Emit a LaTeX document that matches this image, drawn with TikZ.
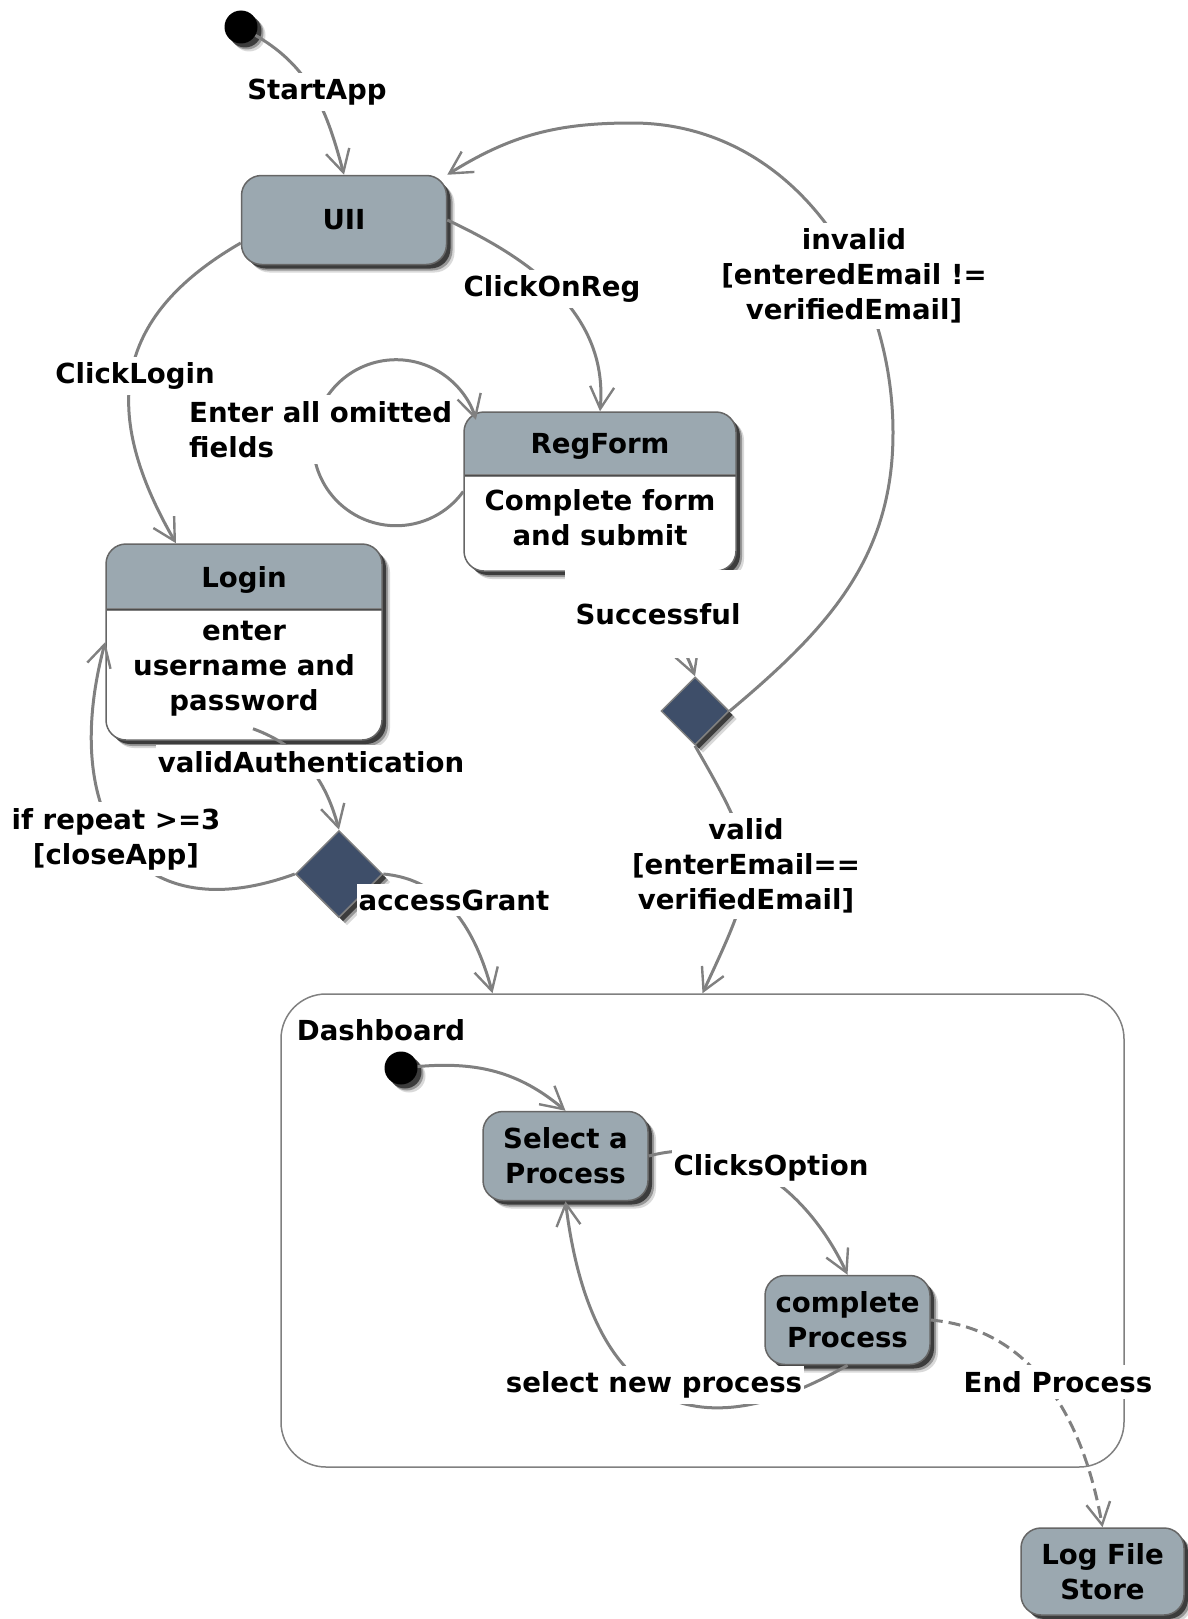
\documentclass[tikz,border=0pt]{standalone}
\usepackage{fontspec}
\setmainfont{DejaVu Sans}
\usetikzlibrary{shapes.geometric,arrows.meta,shadows,positioning,calc}
\definecolor{stategray}{RGB}{155,168,176}
\definecolor{choiceblue}{RGB}{62,78,105}
\definecolor{linegray}{RGB}{128,128,128}

\begin{document}
\begin{tikzpicture}[x=1pt,y=1pt,font=\bfseries\fontsize{27.6}{35}\selectfont,
    shadowed/.style={drop shadow={shadow xshift=8pt,shadow yshift=-8pt,fill=black,opacity=0.15},
        drop shadow={shadow xshift=6pt,shadow yshift=-6pt,fill=black,opacity=0.3},
        drop shadow={shadow xshift=4pt,shadow yshift=-4pt,fill=black,opacity=0.6}},
    state/.style={draw=gray!80!black,line width=1.5pt,fill=stategray,rounded corners=20pt,align=center,inner sep=0pt,shadowed},
    compound/.style={state,fill=white,path picture={
        \fill[stategray,sharp corners] (path picture bounding box.north west) rectangle ([yshift=-#1]path picture bounding box.north east);
        \draw[gray,line width=3pt,sharp corners] ([yshift=-#1]path picture bounding box.north west) -- ([yshift=-#1]path picture bounding box.north east);
        \draw[gray!60!black,line width=0.8pt,sharp corners] ([yshift=-#1]path picture bounding box.north west) -- ([yshift=-#1]path picture bounding box.north east);}},
    choice/.style={diamond,draw=linegray,line width=1.5pt,fill=choiceblue,inner sep=0pt,shadowed},
    initial/.style={circle,fill=black,minimum size=33pt,inner sep=0pt,shadowed},
    trans/.style={draw=linegray,line width=3pt,-{Straight Barb[length=22pt,width=24pt,line width=2.4pt]}},
    lbl/.style={fill=white,inner xsep=2pt,inner ysep=6pt,align=center}]
    \useasboundingbox (0,0) rectangle (1187,-1619);

    \node[initial] (init) at (241,-27) {};
    \node[state,minimum width=205pt,minimum height=89pt] (uii) at (344,-220) {UII};
    \node[compound=63pt,minimum width=272pt,minimum height=159pt] (regform) at (600,-491.5) {};
    \node (regtitle) at ([yshift=-35pt]regform.north) {RegForm};
    \node[align=center] (regbody) at ([yshift=-106pt]regform.north) {Complete form\\and submit};
    \node[compound=65pt,minimum width=276pt,minimum height=196pt] (login) at (244,-642) {};
    \node (logintitle) at ([yshift=-37pt]login.north) {Login};
    \node[align=center] (loginbody) at ([yshift=-125pt]login.north) {enter\\username and\\password};
    \node[choice,minimum size=68pt] (emailcheck) at (695,-711) {};
    \node[choice,minimum size=87pt] (authcheck) at (339,-874) {};

    \node[draw=linegray,line width=1.5pt,rounded corners=45pt,minimum width=843pt,minimum height=473pt] (dashboard) at (702.5,-1230.5) {};
    \node (dashtitle) at (381,-1030) {Dashboard};
    \node[initial] (dashinit) at (401,-1068) {};
    \node[state,minimum width=165pt,minimum height=89pt] (select) at (565.5,-1156) {Select a\\Process};
    \node[state,minimum width=165pt,minimum height=89pt] (complete) at (847.5,-1320) {complete\\Process};
    \node[state,minimum width=163pt,minimum height=87pt] (logfile) at (1102.5,-1571.5) {Log File\\Store};

    \draw[trans] (init) to[out=-30,in=105] (uii.north);
    \draw[trans] ([yshift=-23pt]uii.west) to[out=210,in=120,looseness=1.25] ([xshift=-68pt]login.north);
    \draw[trans] (uii.east) to[out=-25,in=85] (regform.north);
    \draw[trans] (regform.west) arc[start angle=-36,end angle=-344,radius=83];
    \draw[trans] (regform.south) to[out=-30,in=110] (emailcheck.north);
    \coordinate (invright) at (893,-433);
    \coordinate (invtop) at (632,-123);
    \draw[trans] (emailcheck.east) to[out=40,in=-90] (invright) to[out=90,in=0] (invtop) to[out=180,in=32] (uii.north east);
    \draw[trans] (emailcheck.south) to[out=-60,in=65,looseness=1.4] (dashboard.north);
    \draw[trans] ([shift={(9pt,12pt)}]login.south) to[out=-20,in=105] (authcheck.north);
    \draw[trans] (authcheck.west) to[out=200,in=255,looseness=1.5] (login.west);
    \draw[trans] (authcheck.east) to[out=-5,in=105] ([xshift=-210pt]dashboard.north);
    \draw[trans] (dashinit) to[out=5,in=140] (select.north);
    \draw[trans] (select.east) to[out=15,in=115] (complete.north);
    \draw[trans] (complete.south) to[out=210,in=277,looseness=1.5] (select.south);
    \draw[trans,dash pattern=on 12pt off 6pt] (complete.east) to[out=-5,in=100] (logfile.north);

    \node[lbl] (startlbl) at (317,-92) {StartApp};
    \node[lbl] (loginlbl) at (135,-376) {ClickLogin};
    \node[lbl] (reglbl) at (552,-289) {ClickOnReg};
    \node[lbl] (invalidlbl) at (854,-276) {invalid\\{}[enteredEmail !=\\verifiedEmail]};
    \node[lbl,align=left,anchor=west] (omitlbl) at (187,-429.5) {Enter all omitted\\fields};
    \node[lbl,inner xsep=11pt,inner ysep=33pt] (successlbl) at (658,-614) {Successful};
    \node[lbl] (authlbl) at (311,-762) {validAuthentication};
    \node[lbl] (repeatlbl) at (116,-839) {if repeat >=3\\{}[closeApp]};
    \node[lbl] (grantlbl) at (454,-900) {accessGrant};
    \node[lbl] (validlbl) at (746,-866) {valid\\{}[enterEmail==\\verifiedEmail]};
    \node[lbl] (optionlbl) at (771,-1168) {ClicksOption};
    \node[lbl] (newlbl) at (654,-1385) {select new process};
    \node[lbl] (endlbl) at (1058,-1382) {End Process};
\end{tikzpicture}
\end{document}
